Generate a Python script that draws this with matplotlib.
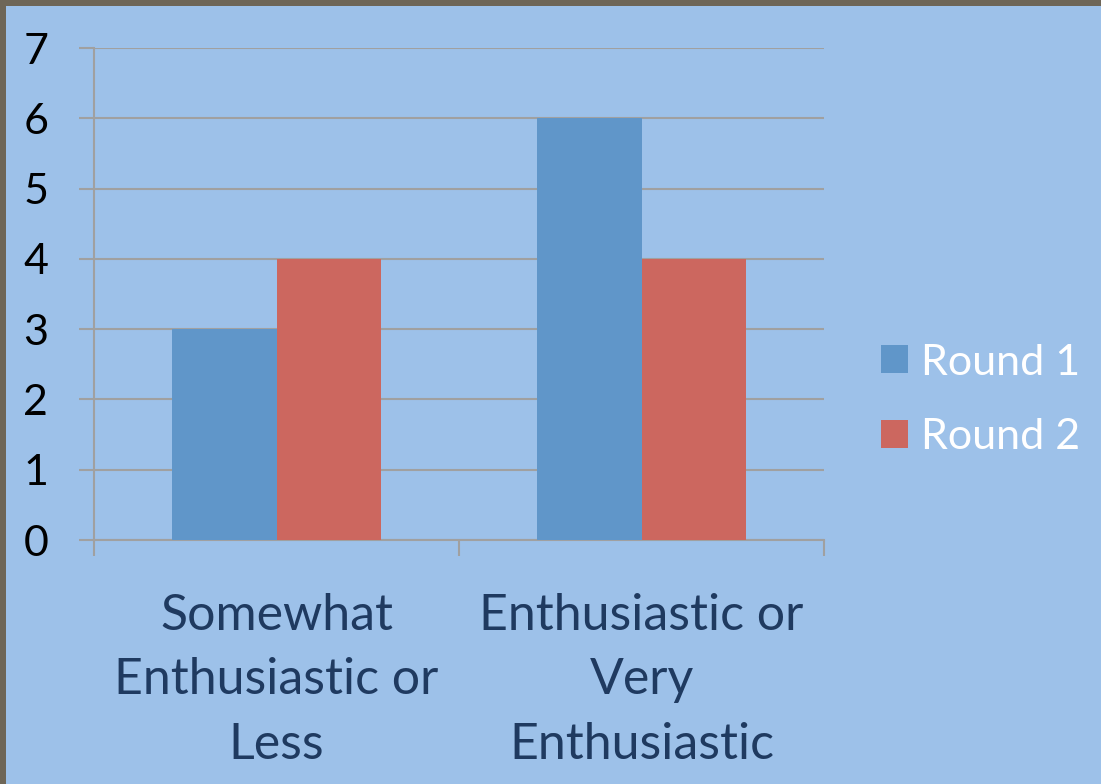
import numpy as np
import matplotlib
matplotlib.use("Agg")
import matplotlib.pyplot as plt
from matplotlib.patches import Rectangle

plt.rcParams['font.family'] = ['Lato', 'DejaVu Sans']

categories = ["Somewhat\nEnthusiastic or\nLess", "Enthusiastic or\nVery\nEnthusiastic"]
round1 = [3, 6]
round2 = [4, 4]
series_names = ["Round 1", "Round 2"]

bg = '#9DC1E9'
blue = '#6096C9'
red = '#CC675F'
grid_col = '#A0A0A0'

fig = plt.figure(figsize=(11.01, 7.84), dpi=100)
fig.patch.set_facecolor(bg)

# thin strip of the slide background showing at the top and left edges
fig.patches.append(Rectangle((0, 1 - 6 / 784), 1, 6 / 784, transform=fig.transFigure,
                             facecolor='#6E6657', edgecolor='none', zorder=10))
fig.patches.append(Rectangle((0, 0), 6 / 1101, 1, transform=fig.transFigure,
                             facecolor='#6E6657', edgecolor='none', zorder=10))

ax = fig.add_axes([94 / 1101, 244 / 784, 730 / 1101, 492 / 784])
ax.set_facecolor(bg)

x = np.arange(len(categories))
w = 0.285
b1 = ax.bar(x - w / 2, round1, w, color=blue, label=series_names[0], zorder=3)
b2 = ax.bar(x + w / 2, round2, w, color=red, label=series_names[1], zorder=3)

ax.set_xlim(-0.5, len(categories) - 0.5)
ax.set_ylim(0, 7)
ax.set_yticks(range(0, 8))
ax.yaxis.grid(True, color=grid_col, linewidth=1.5, zorder=1)
ax.set_axisbelow(True)

for s in ['top', 'right']:
    ax.spines[s].set_visible(False)
for s in ['left', 'bottom']:
    ax.spines[s].set_color(grid_col)
    ax.spines[s].set_linewidth(1.5)

ax.tick_params(axis='y', length=11, width=1.5, color=grid_col, pad=22,
               labelsize=31, labelcolor='black')

# category labels in the middle, boundary ticks between them
ax.set_xticks(x)
ax.set_xticklabels(categories, fontsize=36, color='#1F3A60', linespacing=1.5)
ax.tick_params(axis='x', which='major', length=0, pad=38)
ax.set_xticks(np.arange(-0.5, len(categories)), minor=True)
ax.tick_params(axis='x', which='minor', length=11.5, width=1.5, color=grid_col)

leg = fig.legend(handles=[b1, b2], loc='center left', bbox_to_anchor=(0.765, 0.49),
                 frameon=False, fontsize=31, handlelength=0.62, handleheight=0.62,
                 handletextpad=0.3, labelspacing=0.85)
for t in leg.get_texts():
    t.set_color('white')

fig.savefig('out.png', dpi=100, facecolor=fig.get_facecolor())
